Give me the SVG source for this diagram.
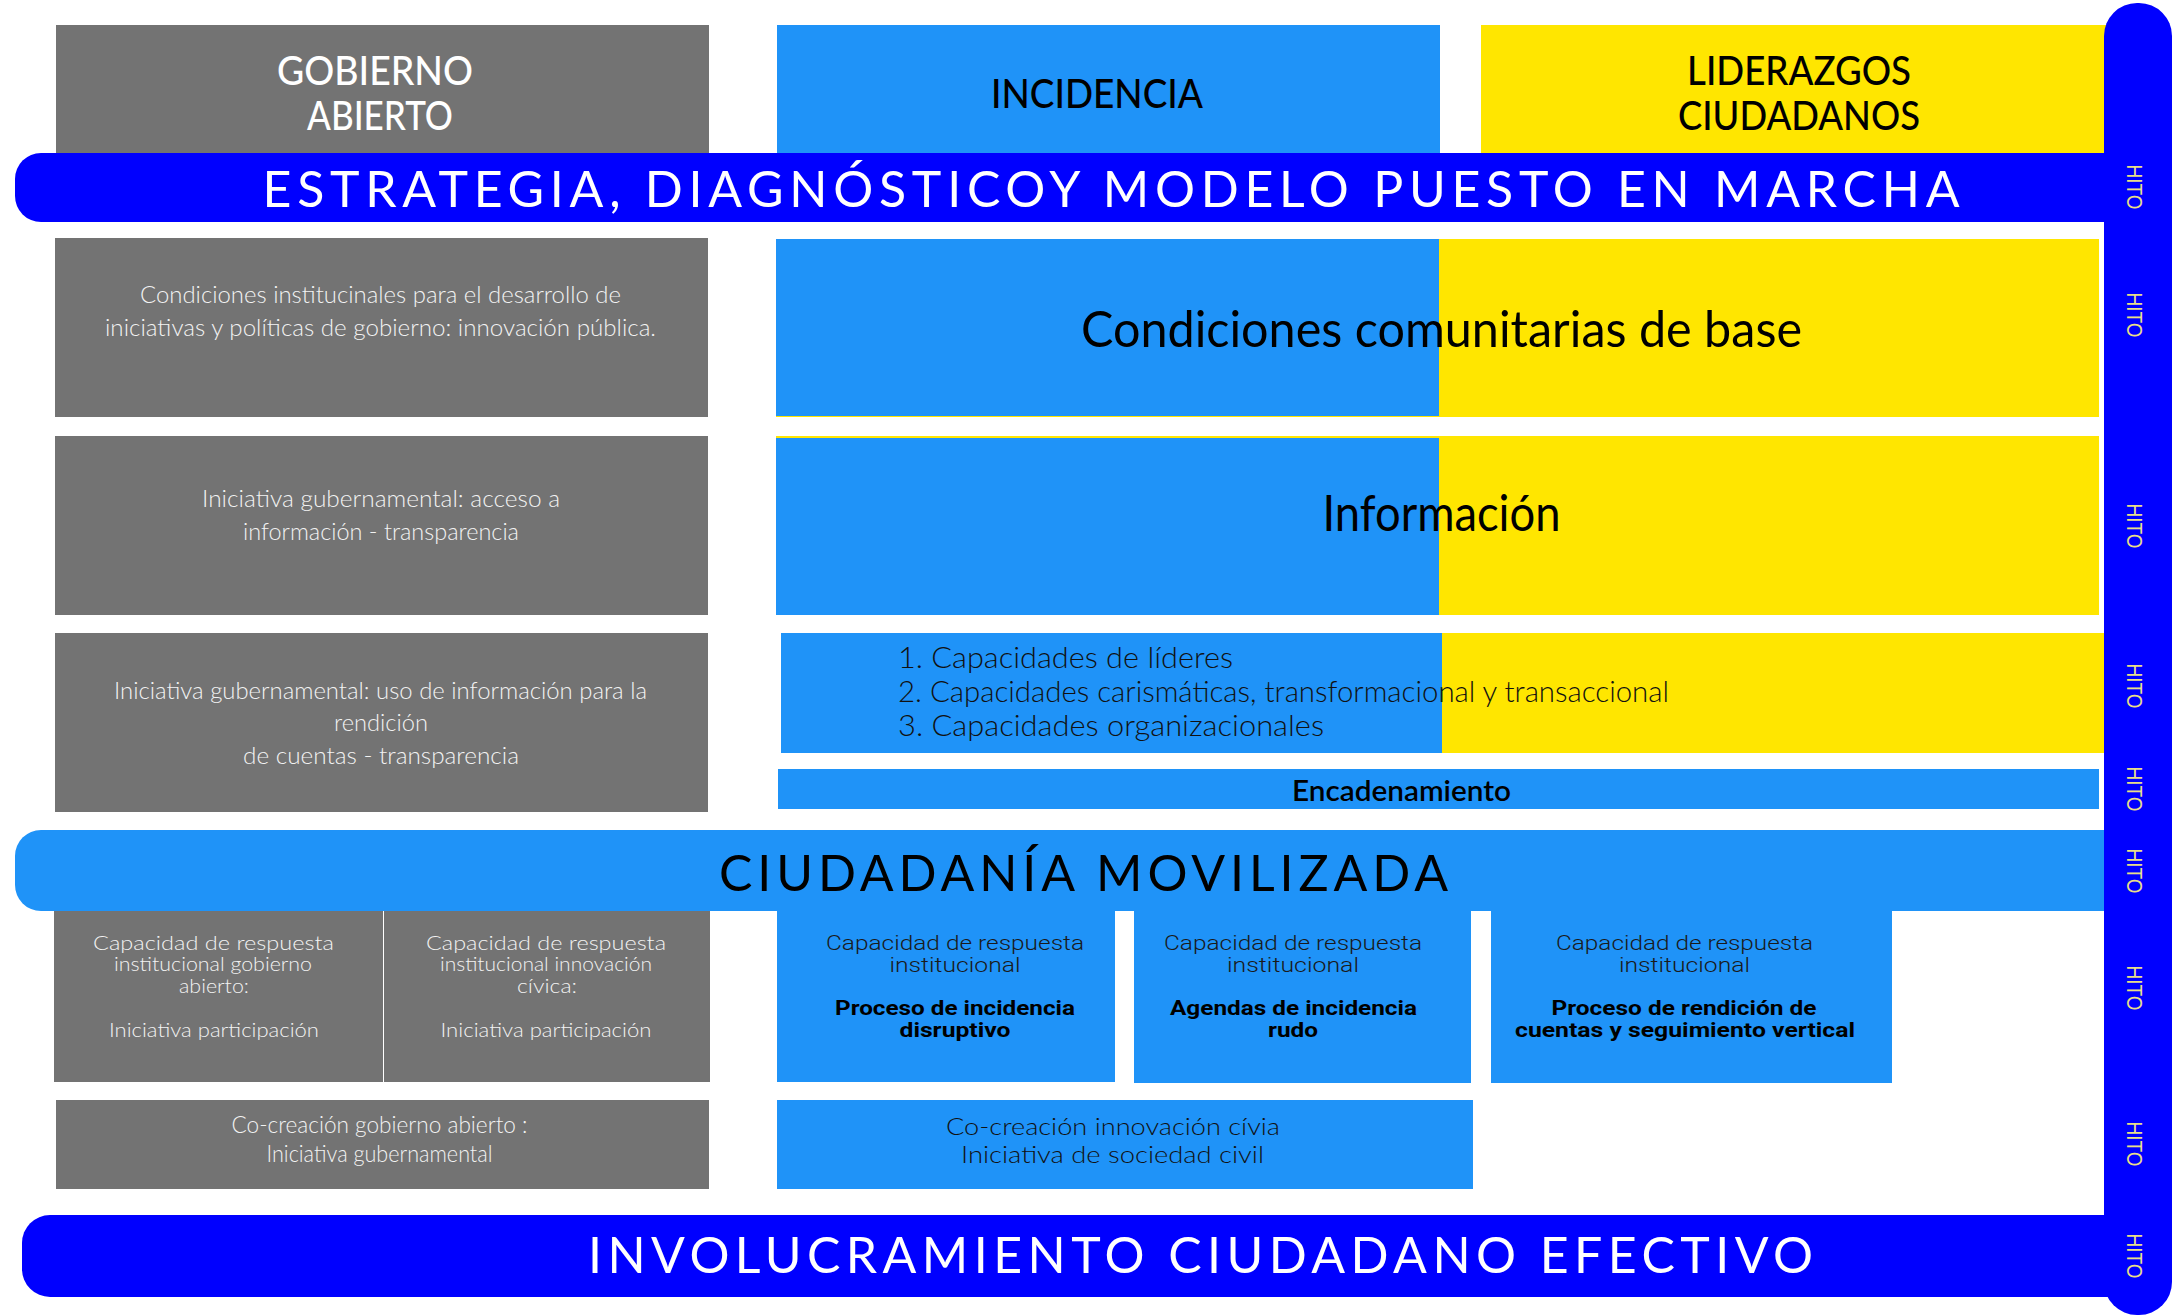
<svg xmlns="http://www.w3.org/2000/svg" width="2179" height="1316" viewBox="0 0 2179 1316">
<style>
.g{fill:#737373}
.b{fill:#1F93F8}
.y{fill:#FFE600}
.d{fill:#0000FF}
text{text-anchor:middle}
.hd{font-family:Lato,'Open Sans',sans-serif;font-size:40px;font-weight:500}
.bar{font-family:Lato,'Open Sans',sans-serif;font-size:50px;font-weight:400}
.th{font-family:Lato,'Open Sans',sans-serif;font-weight:300;font-size:23px;fill:#f2f2f2}
.sm{font-size:20px}
.big{font-family:Lato,'Open Sans',sans-serif;font-weight:400;font-size:50px;fill:#000}
.lst{font-family:Lato,'Open Sans',sans-serif;font-weight:300;font-size:30px;fill:#111;text-anchor:start}
.din{font-family:Roboto,'Liberation Sans',sans-serif;font-weight:300;font-size:21px;fill:#1a1a1a}
.dinb{font-family:Roboto,'Liberation Sans',sans-serif;font-weight:700;font-size:21px;fill:#000}
.hito{font-family:'Liberation Sans',sans-serif;font-size:22px;fill:#E8DE8A;dominant-baseline:central}
.w{fill:#fff}
.k{fill:#000}
</style>

<g id="header-gobierno">
<rect class="g" x="56" y="25" width="653" height="135"/>
<text class="hd w" x="375" y="85" textLength="196" lengthAdjust="spacingAndGlyphs">GOBIERNO</text>
<text class="hd w" x="380" y="130" textLength="146" lengthAdjust="spacingAndGlyphs">ABIERTO</text>
</g>
<g id="header-incidencia">
<rect class="b" x="777" y="25" width="663" height="135"/>
<text class="hd k" x="1097" y="108" textLength="212" lengthAdjust="spacingAndGlyphs">INCIDENCIA</text>
</g>
<g id="header-liderazgos">
<rect class="y" x="1481" y="25" width="625" height="135"/>
<text class="hd k" x="1799" y="85" textLength="224" lengthAdjust="spacingAndGlyphs">LIDERAZGOS</text>
<text class="hd k" x="1799" y="130" textLength="242" lengthAdjust="spacingAndGlyphs">CIUDADANOS</text>
</g>

<g id="bar-estrategia">
<rect class="d" x="15" y="153" width="2125" height="69" rx="26" ry="26"/>
<text class="bar w" x="1111" y="207" textLength="1697" lengthAdjust="spacing">ESTRATEGIA, DIAGNÓSTICOY MODELO PUESTO EN MARCHA</text>
</g>

<g id="gob-condiciones">
<rect class="g" x="55" y="238" width="653" height="179"/>
<text class="th" x="380.5" y="303" textLength="481" lengthAdjust="spacingAndGlyphs">Condiciones institucinales para el desarrollo de</text>
<text class="th" x="380.5" y="336" textLength="551" lengthAdjust="spacingAndGlyphs">iniciativas y políticas de gobierno: innovación pública.</text>
</g>
<g id="condiciones-comunitarias">
<rect class="y" x="776" y="239" width="1323" height="178"/>
<rect class="b" x="776" y="239" width="663" height="177"/>
<text class="big" x="1441.5" y="347" textLength="721" lengthAdjust="spacingAndGlyphs">Condiciones comunitarias de base</text>
</g>

<g id="gob-acceso">
<rect class="g" x="55" y="436" width="653" height="179"/>
<text class="th" x="381" y="507" textLength="358" lengthAdjust="spacingAndGlyphs">Iniciativa gubernamental: acceso a</text>
<text class="th" x="381" y="540" textLength="276" lengthAdjust="spacingAndGlyphs">información - transparencia</text>
</g>
<g id="informacion">
<rect class="y" x="776" y="436" width="1323" height="179"/>
<rect class="b" x="776" y="438" width="663" height="177"/>
<text class="big" x="1441.5" y="531" font-size="48" textLength="238" lengthAdjust="spacingAndGlyphs">Información</text>
</g>

<g id="gob-rendicion">
<rect class="g" x="55" y="633" width="653" height="179"/>
<text class="th" x="380.5" y="699" textLength="533" lengthAdjust="spacingAndGlyphs">Iniciativa gubernamental: uso de información para la</text>
<text class="th" x="381" y="731" textLength="94" lengthAdjust="spacingAndGlyphs">rendición</text>
<text class="th" x="381" y="764" textLength="276" lengthAdjust="spacingAndGlyphs">de cuentas - transparencia</text>
</g>
<g id="capacidades">
<rect class="y" x="1442" y="633" width="665" height="120"/>
<rect class="b" x="781" y="633" width="661" height="120"/>
<text class="lst" x="898" y="668" textLength="335" lengthAdjust="spacingAndGlyphs">1. Capacidades de líderes</text>
<text class="lst" x="898" y="702" textLength="771" lengthAdjust="spacingAndGlyphs">2. Capacidades carismáticas, transformacional y transaccional</text>
<text class="lst" x="898" y="736" textLength="426" lengthAdjust="spacingAndGlyphs">3. Capacidades organizacionales</text>
</g>
<g id="encadenamiento">
<rect class="b" x="778" y="769" width="1321" height="40"/>
<text x="1401.5" y="801" font-family="Lato,'Open Sans',sans-serif" font-weight="600" font-size="29" fill="#000" textLength="219" lengthAdjust="spacingAndGlyphs">Encadenamiento</text>
</g>

<g id="gob-cap-abierto">
<rect class="g" x="54" y="905" width="329" height="177"/>
<text class="th sm" x="213.5" y="950" textLength="241" lengthAdjust="spacingAndGlyphs">Capacidad de respuesta</text>
<text class="th sm" x="213" y="971" textLength="198" lengthAdjust="spacingAndGlyphs">institucional gobierno</text>
<text class="th sm" x="214" y="993" textLength="70" lengthAdjust="spacingAndGlyphs">abierto:</text>
<text class="th sm" x="214" y="1037" textLength="210" lengthAdjust="spacingAndGlyphs">Iniciativa participación</text>
</g>
<g id="gob-cap-civica">
<rect class="g" x="384" y="905" width="326" height="177"/>
<text class="th sm" x="546" y="950" textLength="240" lengthAdjust="spacingAndGlyphs">Capacidad de respuesta</text>
<text class="th sm" x="546" y="971" textLength="212" lengthAdjust="spacingAndGlyphs">institucional innovación</text>
<text class="th sm" x="547" y="993" textLength="60" lengthAdjust="spacingAndGlyphs">cívica:</text>
<text class="th sm" x="546" y="1037" textLength="211" lengthAdjust="spacingAndGlyphs">Iniciativa participación</text>
</g>

<g id="cap-disruptivo">
<rect class="b" x="777" y="905" width="338" height="177"/>
<text class="din" x="955" y="950" textLength="258" lengthAdjust="spacingAndGlyphs">Capacidad de respuesta</text>
<text class="din" x="955" y="972" textLength="131" lengthAdjust="spacingAndGlyphs">institucional</text>
<text class="dinb" x="955" y="1015" textLength="240" lengthAdjust="spacingAndGlyphs">Proceso de incidencia</text>
<text class="dinb" x="955" y="1037" textLength="111" lengthAdjust="spacingAndGlyphs">disruptivo</text>
</g>
<g id="cap-rudo">
<rect class="b" x="1134" y="905" width="337" height="178"/>
<text class="din" x="1293" y="950" textLength="258" lengthAdjust="spacingAndGlyphs">Capacidad de respuesta</text>
<text class="din" x="1293" y="972" textLength="132" lengthAdjust="spacingAndGlyphs">institucional</text>
<text class="dinb" x="1293.5" y="1015" textLength="247" lengthAdjust="spacingAndGlyphs">Agendas de incidencia</text>
<text class="dinb" x="1293" y="1037" textLength="50" lengthAdjust="spacingAndGlyphs">rudo</text>
</g>
<g id="cap-rendicion">
<rect class="b" x="1491" y="905" width="401" height="178"/>
<text class="din" x="1684.5" y="950" textLength="257" lengthAdjust="spacingAndGlyphs">Capacidad de respuesta</text>
<text class="din" x="1684.5" y="972" textLength="131" lengthAdjust="spacingAndGlyphs">institucional</text>
<text class="dinb" x="1684" y="1015" textLength="265" lengthAdjust="spacingAndGlyphs">Proceso de rendición de</text>
<text class="dinb" x="1685" y="1037" textLength="340" lengthAdjust="spacingAndGlyphs">cuentas y seguimiento vertical</text>
</g>

<g id="bar-ciudadania">
<rect class="b" x="15" y="830" width="2125" height="81" rx="26" ry="26"/>
<text class="bar k" x="1083.5" y="891" textLength="729" lengthAdjust="spacing">CIUDADANÍA MOVILIZADA</text>
</g>

<g id="gob-cocreacion">
<rect class="g" x="56" y="1100" width="653" height="89"/>
<text class="th" x="379.5" y="1133" font-size="24" textLength="296" lengthAdjust="spacingAndGlyphs">Co-creación gobierno abierto :</text>
<text class="th" x="379.5" y="1162" font-size="24" textLength="226" lengthAdjust="spacingAndGlyphs">Iniciativa gubernamental</text>
</g>
<g id="civ-cocreacion">
<rect class="b" x="777" y="1100" width="696" height="89"/>
<text class="th" x="1113" y="1135" font-size="27" style="fill:#111" textLength="334" lengthAdjust="spacingAndGlyphs">Co-creación innovación cívia</text>
<text class="th" x="1112.5" y="1163" font-size="27" style="fill:#111" textLength="303" lengthAdjust="spacingAndGlyphs">Iniciativa de sociedad civil</text>
</g>

<g id="bar-involucramiento">
<rect class="d" x="22" y="1215" width="2125" height="82" rx="28" ry="28"/>
<text class="bar w" x="1200.5" y="1273" textLength="1225" lengthAdjust="spacing">INVOLUCRAMIENTO CIUDADANO EFECTIVO</text>
</g>

<g id="hito-bar">
<rect class="d" x="2104" y="3" width="68" height="1312" rx="33" ry="33"/>
<text class="hito" transform="translate(2134 187) rotate(90)" textLength="45" lengthAdjust="spacingAndGlyphs">HITO</text>
<text class="hito" transform="translate(2134 315) rotate(90)" textLength="45" lengthAdjust="spacingAndGlyphs">HITO</text>
<text class="hito" transform="translate(2134 526) rotate(90)" textLength="45" lengthAdjust="spacingAndGlyphs">HITO</text>
<text class="hito" transform="translate(2134 686) rotate(90)" textLength="45" lengthAdjust="spacingAndGlyphs">HITO</text>
<text class="hito" transform="translate(2134 789) rotate(90)" textLength="45" lengthAdjust="spacingAndGlyphs">HITO</text>
<text class="hito" transform="translate(2134 871) rotate(90)" textLength="45" lengthAdjust="spacingAndGlyphs">HITO</text>
<text class="hito" transform="translate(2134 988) rotate(90)" textLength="45" lengthAdjust="spacingAndGlyphs">HITO</text>
<text class="hito" transform="translate(2134 1144) rotate(90)" textLength="45" lengthAdjust="spacingAndGlyphs">HITO</text>
<text class="hito" transform="translate(2134 1256) rotate(90)" textLength="45" lengthAdjust="spacingAndGlyphs">HITO</text>
</g>
<g id="connectors"/>
</svg>
